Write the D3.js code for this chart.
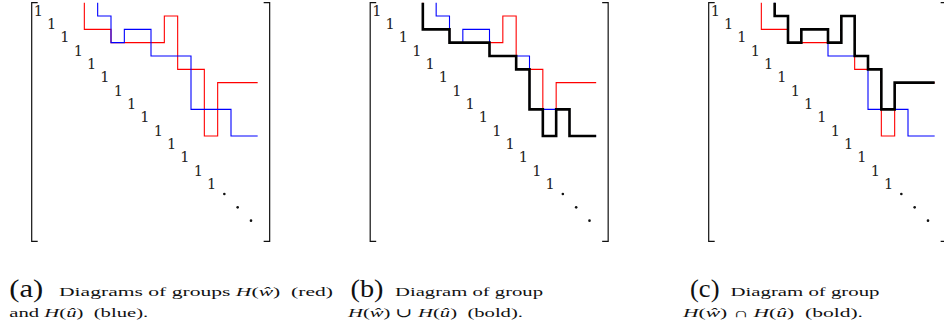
<!DOCTYPE html>
<html>
<head>
<meta charset="utf-8">
<script src="https://cdn.jsdelivr.net/npm/d3@7"></script>
<style>
  html, body { margin: 0; padding: 0; background: #fff; }
  svg { display: block; }
  text { font-family: "Liberation Serif", "DejaVu Serif", serif; fill: #111; }
</style>
</head>
<body>
<div id="chart"></div>
<script>
// matrix diagrams: rows of the step boundary per column (columns start..16)
var nCols = 17;
var onesCount = 14;
var dotsCount = 3;

var redStart = 4;
var redRows = [2, 2, 3, 3, 3, 3, 1, 5, 5, 10, 6, 6, 6];
var blueStart = 5;
var blueRows = [1, 3, 2, 2, 4, 4, 4, 8, 8, 8, 10, 10];
var unionStart = 4;
var unionRows = [2, 2, 3, 3, 3, 4, 4, 5, 8, 10, 8, 10, 10];
var interStart = 5;
var interRows = [1, 3, 2, 2, 3, 1, 4, 5, 8, 6, 6, 6];

var panelLabels = ["(a)", "(b)", "(c)"];
var captionLine1 = [
  [["Diagrams of groups ", ""], ["H", "i"], ["(", ""], ["ŵ", "i"], [")  (red)", ""]],
  [["Diagram of group", ""]],
  [["Diagram of group", ""]]
];
var captionLine2 = [
  [["and ", ""], ["H", "i"], ["(", ""], ["û", "i"], [")  (blue).", ""]],
  [["H", "i"], ["(", ""], ["ŵ", "i"], [") ∪ ", ""], ["H", "i"], ["(", ""], ["û", "i"], [")  (bold).", ""]],
  [["H", "i"], ["(", ""], ["ŵ", "i"], [") ∩ ", ""], ["H", "i"], ["(", ""], ["û", "i"], [")  (bold).", ""]]
];

var W = 944, H = 328;
var cell = 40 / 3;
var panelX = [31, 369.5, 708];
var panelY = 2.67;
var bracketExt = 17.9;

var svg = d3.select("#chart").append("svg")
  .attr("width", W)
  .attr("height", H);

var x = d3.scaleLinear().domain([0, nCols]).range([0, nCols * cell]);
var y = d3.scaleLinear().domain([0, nCols]).range([0, nCols * cell]);

var step = d3.line()
  .curve(d3.curveStepAfter)
  .x(d => x(d[0]))
  .y(d => y(d[1]));

function stepPoints(start, rows) {
  var pts = [[start, 0]];
  rows.forEach((r, i) => pts.push([start + i, r]));
  pts.push([nCols, rows[rows.length - 1]]);
  return pts;
}

var series = [
  [{ start: redStart, rows: redRows, color: "#ff0000", w: 1.1 },
   { start: blueStart, rows: blueRows, color: "#0000ff", w: 1.1 }],
  [{ start: redStart, rows: redRows, color: "#ff0000", w: 1.1 },
   { start: blueStart, rows: blueRows, color: "#0000ff", w: 1.1 },
   { start: unionStart, rows: unionRows, color: "#000", w: 2.6 }],
  [{ start: redStart, rows: redRows, color: "#ff0000", w: 1.1 },
   { start: blueStart, rows: blueRows, color: "#0000ff", w: 1.1 },
   { start: interStart, rows: interRows, color: "#000", w: 2.6 }]
];

panelX.forEach(function(px, p) {
  var g = svg.append("g")
    .attr("transform", "translate(" + px + "," + panelY + ")");

  // brackets
  var serif = 6;
  var top = 0, bottom = y(bracketExt);
  var left = x(0) + 0.7, right = x(bracketExt);
  g.append("path")
    .attr("d", "M" + (left + serif) + "," + top + "H" + left + "V" + bottom + "H" + (left + serif))
    .attr("fill", "none").attr("stroke", "#111").attr("stroke-width", 1.2);
  g.append("path")
    .attr("d", "M" + (right - serif) + "," + top + "H" + right + "V" + bottom + "H" + (right - serif))
    .attr("fill", "none").attr("stroke", "#111").attr("stroke-width", 1.2);

  // diagonal ones
  g.selectAll("text.one")
    .data(d3.range(onesCount))
    .enter().append("text")
    .attr("class", "one")
    .attr("x", i => x(i + 0.5) + 0.6)
    .attr("y", i => y(i + 1) - 0.2)
    .attr("text-anchor", "middle")
    .style("font-family", "'DejaVu Serif', serif")
    .style("font-size", "14.5px")
    .style("fill", "#222")
    .text("1");

  // dots
  g.selectAll("circle.dot")
    .data(d3.range(onesCount, onesCount + dotsCount))
    .enter().append("circle")
    .attr("class", "dot")
    .attr("cx", i => x(i + 0.5))
    .attr("cy", i => y(i + 0.5) - 2)
    .attr("r", 1.3)
    .attr("fill", "#111");

  // step lines
  series[p].forEach(function(s) {
    g.append("path")
      .datum(stepPoints(s.start, s.rows))
      .attr("d", step)
      .attr("fill", "none")
      .attr("stroke", s.color)
      .attr("stroke-width", s.w)
      .attr("stroke-linejoin", "miter");
  });
});

// captions
var labelPos = [{ x: 9.3, w: 34 }, { x: 350.5, w: 33 }, { x: 690, w: 29.5 }];
var line1Pos = [{ x: 59, w: 274 }, { x: 395, w: 148 }, { x: 730.5, w: 149 }];
var line2Pos = [{ x: 9.3, w: 139 }, { x: 348, w: 175 }, { x: 683, w: 180 }];
var base1 = 296, base2 = 317;

function addLine(parts, pos, yy) {
  var t = svg.append("text")
    .attr("x", pos.x)
    .attr("y", yy)
    .attr("textLength", pos.w)
    .attr("lengthAdjust", "spacingAndGlyphs")
    .style("font-size", "12.5px")
    .style("white-space", "pre");
  parts.forEach(function(pt) {
    t.append("tspan")
      .style("font-style", pt[1] === "i" ? "italic" : "normal")
      .text(pt[0]);
  });
}

panelLabels.forEach(function(lab, p) {
  svg.append("text")
    .attr("x", labelPos[p].x)
    .attr("y", base1 + 1)
    .attr("textLength", labelPos[p].w)
    .attr("lengthAdjust", "spacingAndGlyphs")
    .style("font-size", "25px")
    .text(lab);
  addLine(captionLine1[p], line1Pos[p], base1);
  addLine(captionLine2[p], line2Pos[p], base2);
});
</script>
</body>
</html>
